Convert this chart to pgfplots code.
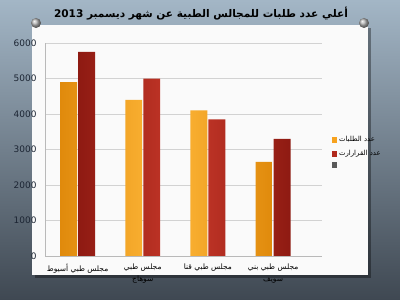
\documentclass[border=0pt]{standalone}
\usepackage{pgfplots}
\pgfplotsset{compat=1.18}
\usepackage{fontspec}
\setmainfont{DejaVu Sans}
\newfontfamily\arabicfont[Script=Arabic]{DejaVu Sans}
\TeXXeTstate=1
\definecolor{orD}{HTML}{E08A0C}
\definecolor{orL}{HTML}{FFB83A}
\definecolor{orM}{HTML}{F7A21E}
\definecolor{rdD}{HTML}{8E1A12}
\definecolor{rdL}{HTML}{C8392A}
\definecolor{rdM}{HTML}{B0291D}
\definecolor{bgT}{HTML}{A3B6C6}
\definecolor{bgB}{HTML}{3F4852}
\definecolor{ticktxt}{HTML}{1C2533}
\begin{document}
\begin{tikzpicture}[x=1bp,y=1bp]
\shade[top color=bgT, bottom color=bgB, use as bounding box] (0,0) rectangle (400,300);
\fill[black,opacity=0.35] (35,22) rectangle (371,272);
\fill[white!96!gray] (32,25) rectangle (368,275);
\shade[ball color=gray!60] (36,277) circle (5);
\shade[ball color=gray!60] (364,277) circle (5);
\node[font=\bfseries\fontsize{10.6}{12}\selectfont, text=black] at (201,286)
  {\arabicfont\beginR أعلي عدد طلبات للمجالس الطبية عن شهر ديسمبر \beginL 2013\endL\endR};
\begin{axis}[
  at={(45bp,44bp)}, anchor=south west,
  scale only axis, width=277bp, height=213bp,
  ybar, bar width=0.26,
  ymin=0, ymax=6000, ytick={0,1000,...,6000},
  xmin=-0.5, xmax=3.75, xtick={0,1,2,3},
  xticklabels={
    {\arabicfont\beginR مجلس طبي أسيوط\endR},
    {\arabicfont\beginR مجلس طبي\endR\\\arabicfont\beginR سوهاج\endR},
    {\arabicfont\beginR مجلس طبي قنا\endR},
    {\arabicfont\beginR مجلس طبي بني\endR\\\arabicfont\beginR سويف\endR}},
  xticklabel style={align=center, font=\fontsize{7.5}{12}\selectfont, text=black},
  yticklabel style={font=\fontsize{9}{10}\selectfont, text=ticktxt, xshift=-5bp, /pgf/number format/1000 sep={}},
  /pgf/number format/assume math mode=true,
  scaled y ticks=false,
  ymajorgrids, grid style={gray!35},
  axis lines*=left, axis line style={gray!55},
  tick style={draw=none},
  legend image code/.code={\fill[#1] (0bp,-3bp) rectangle (5.5bp,3bp);},
  legend style={at={(1.03,0.58)}, anchor=north west, draw=none, fill=none,
    font=\fontsize{7}{8}\selectfont, row sep=3pt, inner xsep=1bp},
  legend cell align=left,
]
\addplot[draw=none, bar shift=-0.138, left color=orD, right color=orD, middle color=orL, forget plot]
  coordinates {(0,4900) (1,4400) (2,4100) (3,2650)};
\addplot[draw=none, bar shift=0.138, left color=rdD, right color=rdD, middle color=rdL, forget plot]
  coordinates {(0,5750) (1,5000) (2,3850) (3,3300)};
\addlegendimage{fill=orM, draw=none}
\addlegendentry{\arabicfont\beginR عدد الطلبات\endR}
\addlegendimage{fill=rdM, draw=none}
\addlegendentry{\arabicfont\beginR عدد القرارارت\endR}
\addlegendimage{fill=gray!70!black, draw=none}
\addlegendentry{}
\end{axis}
\end{tikzpicture}
\end{document}
